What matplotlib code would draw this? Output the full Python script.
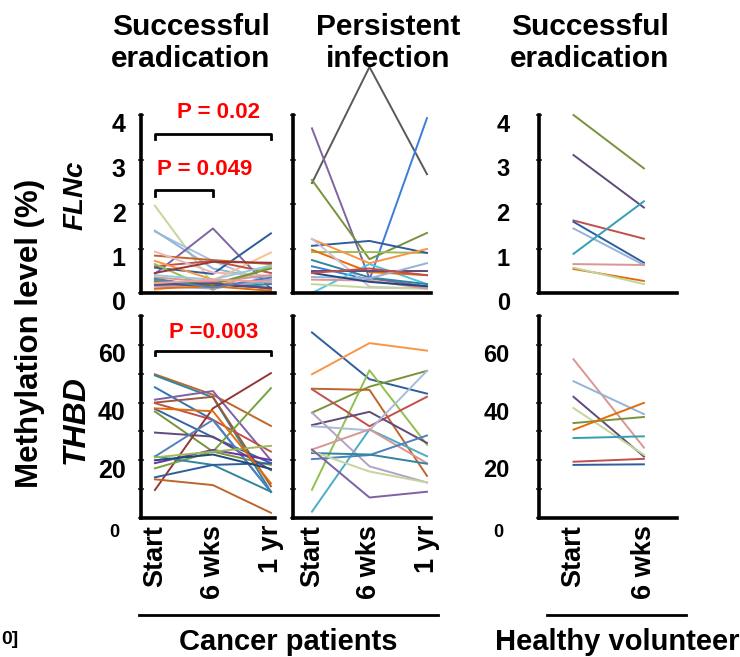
import matplotlib.pyplot as plt
from matplotlib.lines import Line2D
from matplotlib.transforms import ScaledTranslation

plt.rcParams['font.family'] = ['Liberation Sans', 'DejaVu Sans']
plt.rcParams['font.weight'] = 'bold'

W, H = 740, 657

cancer_times = ['Start', '6 wks', '1 yr']
healthy_times = ['Start', '6 wks']

# FLNc methylation (%) - one list per subject: start, 6 wks, 1 yr
flnc_success = [
    [1.96, 0.20, 0.57], [1.38, 0.72, 0.20], [1.40, 0.55, 0.30], [0.43, 1.45, 0.09],
    [0.57, 0.43, 1.34], [0.07, 0.28, 0.91], [0.84, 0.74, 0.65], [0.60, 0.72, 0.45],
    [0.93, 0.46, 0.39], [0.65, 0.07, 0.61], [0.72, 0.30, 0.08], [0.30, 0.15, 0.25],
    [0.25, 0.12, 0.20], [0.20, 0.18, 0.12], [0.15, 0.10, 0.30], [0.35, 0.25, 0.40],
    [0.28, 0.20, 0.55], [0.40, 0.30, 0.62], [0.18, 0.22, 0.10], [0.10, 0.15, 0.05],
    [0.32, 0.12, 0.35], [0.22, 0.30, 0.25], [0.45, 0.70, 0.68],
]
flnc_persist = [
    [2.47, 5.08, 2.67], [3.70, 0.33, 0.15], [0.60, 0.30, 3.93], [0.00, 0.65, 0.20],
    [2.54, 0.76, 1.35], [0.92, 0.92, 0.90], [1.06, 1.17, 0.90], [1.21, 0.67, 0.99],
    [0.97, 0.47, 0.40], [1.22, 0.14, 0.10], [0.74, 0.35, 0.20], [0.50, 0.50, 0.50],
    [0.36, 0.33, 0.67], [0.20, 0.12, 0.10], [0.30, 0.28, 0.10], [0.45, 0.25, 0.15],
    [0.45, 0.55, 0.40],
]
flnc_healthy = [
    [4.00, 2.80], [3.10, 1.92], [1.63, 1.22], [1.60, 0.68], [1.45, 0.63],
    [0.88, 2.06], [0.65, 0.63], [0.54, 0.27], [0.57, 0.20],
]

# THBD methylation (%)
thbd_success = [
    [49.8, 42.7, 31.9], [49.4, 41.8, 9.1], [45.3, 34.0, 9.0], [41.0, 44.0, 20.0],
    [40.0, 42.0, 11.0], [37.8, 28.0, 19.0], [36.9, 23.0, 18.4], [29.6, 28.2, 16.6],
    [39.8, 34.0, 23.0], [9.7, 38.0, 50.2], [17.2, 23.0, 45.0], [21.3, 34.0, 9.1],
    [19.0, 23.6, 20.1], [21.3, 18.4, 9.1], [14.1, 18.4, 19.0], [13.4, 11.4, 1.8],
    [21.0, 23.0, 25.0], [38.0, 37.0, 12.0], [20.0, 22.0, 17.0],
]
thbd_persist = [
    [64.3, 48.1, 43.1], [49.8, 60.6, 58.0], [36.5, 45.5, 51.0], [9.8, 51.2, 25.4],
    [44.8, 44.4, 14.6], [44.6, 31.8, 42.0], [32.2, 36.8, 26.0], [31.8, 30.4, 51.0],
    [2.2, 30.7, 21.4], [36.5, 17.9, 12.3], [23.7, 30.7, 19.0], [20.4, 21.8, 28.6],
    [22.5, 22.0, 18.8], [23.1, 16.1, 12.3], [23.7, 7.1, 9.1],
]
thbd_healthy = [
    [55.0, 24.4], [47.4, 36.0], [42.0, 21.3], [38.1, 21.9], [32.9, 35.0],
    [30.6, 39.9], [27.7, 28.3], [19.5, 20.5], [18.4, 18.6],
]

flnc_success_colors = ['#c3d69b', '#a6c4e4', '#95b3d7', '#8064a2', '#2c5d96', '#fac090',
                       '#c0652b', '#c0504d', '#e6b9b8', '#9bbb59', '#f79646', '#4bacc6',
                       '#31859c', '#1f497d', '#b3a2c7', '#d99694', '#77933c', '#93cddd',
                       '#604a7b', '#e36c09', '#4f81bd', '#f2a0a0', '#953735']
flnc_persist_colors = ['#595959', '#8064a2', '#3b7dd8', '#4bc6e6', '#77933c', '#9bbb59',
                       '#2e5e9c', '#f79646', '#e36c09', '#ccc0da', '#31859c', '#5f497a',
                       '#95b3d7', '#c3d69b', '#d99694', '#1f497d', '#c0504d']
flnc_healthy_colors = ['#77933c', '#604a7b', '#c0504d', '#2e5e9c', '#95b3d7',
                       '#31a0b5', '#d99694', '#e36c09', '#c3d69b']
thbd_success_colors = ['#c0652b', '#31859c', '#2e75b6', '#7f5fa5', '#9b5b3a', '#3465a4',
                       '#77933c', '#604a7b', '#c0504d', '#953735', '#77a33c', '#4f81bd',
                       '#7030a0', '#31859c', '#2e5e9c', '#c0652b', '#9bbb59', '#e36c09',
                       '#1f497d']
thbd_persist_colors = ['#2e5e9c', '#f79646', '#77933c', '#92c050', '#c0652b', '#c0504d',
                       '#604a7b', '#a6bddb', '#4bacc6', '#b3a2c7', '#d99694', '#4f81bd',
                       '#31859c', '#c3d69b', '#7f5fa5']
thbd_healthy_colors = ['#d99694', '#95b3d7', '#604a7b', '#c3d69b', '#77933c',
                       '#e36c09', '#31a0b5', '#c0504d', '#2e5e9c']


fig = plt.figure(figsize=(W / 100, H / 100), dpi=100)


def add_px_axes(x0, y0, x1, y1):
    return fig.add_axes([x0 / W, 1 - y1 / H, (x1 - x0) / W, (y1 - y0) / H])


def style_axis(ax, row, col, times, xlim):
    ax.set_xlim(*xlim)
    for s in ['top', 'right']:
        ax.spines[s].set_visible(False)
    for s in ['left', 'bottom']:
        ax.spines[s].set_linewidth(2.6)
        ax.spines[s].set_color('black')
    ax.tick_params(axis='y', which='both', direction='inout', length=4, width=1.5, color='#555555')
    ax.tick_params(axis='x', length=0)
    ax.set_xticks(range(len(times)))
    if row == 1:
        ax.set_xticklabels(times, rotation=90, fontsize=19.5, fontweight='bold', va='top')
        ax.tick_params(axis='x', pad=5)
    else:
        ax.set_xticklabels([])

    if row == 0:
        ax.set_ylim(0, 4)
        ticks = [0, 1, 2, 3, 4]
        labels = ['0', '1', '2', '3', '4']
        ax.set_yticks(ticks)
    else:
        ax.set_ylim(0, 70)
        ticks = [0, 20, 40, 60]
        labels = ['', '20', '40', '60']
        ax.set_yticks(ticks)
        ax.set_yticks([10, 30, 50, 70], minor=True)

    if col == 1:
        ax.set_yticklabels([])
        return
    size = 18 if col == 0 else 17
    pad = 9 if col == 0 else 19
    ax.set_yticklabels(labels, fontsize=size, fontweight='bold')
    ax.tick_params(axis='y', pad=pad)
    shift = ScaledTranslation(0, -8 / 100, fig.dpi_scale_trans)
    for lab in ax.get_yticklabels():
        lab.set_transform(lab.get_transform() + shift)
    if row == 1:
        # small zero below the axis
        ax.text(-0.16 if col == 0 else -0.26, -0.03, '0', transform=ax.transAxes,
                fontsize=13, fontweight='bold', ha='right', va='top')


cols_px = [(141, 275), (293, 431), (539, 677)]
rows_px = [(115, 293), (316, 518)]
xlims = [(-0.24, 2.07), (-0.33, 2.07), (-0.49, 1.47)]

panels = [
    [(flnc_success, flnc_success_colors, cancer_times),
     (flnc_persist, flnc_persist_colors, cancer_times),
     (flnc_healthy, flnc_healthy_colors, healthy_times)],
    [(thbd_success, thbd_success_colors, cancer_times),
     (thbd_persist, thbd_persist_colors, cancer_times),
     (thbd_healthy, thbd_healthy_colors, healthy_times)],
]

axes = [[None] * 3 for _ in range(2)]
for r, (y0, y1) in enumerate(rows_px):
    for c, (x0, x1) in enumerate(cols_px):
        ax = add_px_axes(x0, y0, x1, y1)
        data, colors, times = panels[r][c]
        for series, color in zip(data, colors):
            ax.plot(range(len(series)), series, color=color, lw=1.4, clip_on=False)
        style_axis(ax, r, c, times, xlims[c])
        axes[r][c] = ax


def bracket(ax, x0, x1, y, drop, text, ty, tx):
    ax.plot([x0, x0, x1, x1], [y - drop, y, y, y - drop], color='black', lw=2, clip_on=False)
    ax.text(tx, ty, text, color='red', fontsize=16, fontweight='bold', ha='center', va='center')


bracket(axes[0][0], 0, 2, 3.57, 0.12, 'P = 0.02', 4.06, 1.09)
bracket(axes[0][0], 0, 1, 2.31, 0.14, 'P = 0.049', 2.78, 0.86)
bracket(axes[1][0], 0, 2, 58.0, 1.6, 'P =0.003', 64.2, 1.02)

# column titles
fig.text(191 / W, 1 - 43 / H, 'Successful\neradication', ha='center', va='center',
         fontsize=21.5, fontweight='bold')
fig.text(388 / W, 1 - 43 / H, 'Persistent\ninfection', ha='center', va='center',
         fontsize=21.5, fontweight='bold')
fig.text(590 / W, 1 - 43 / H, 'Successful\neradication', ha='center', va='center',
         fontsize=21.5, fontweight='bold')

# row labels
fig.text(30 / W, 1 - 333 / H, 'Methylation level (%)', rotation=90, ha='center', va='center',
         fontsize=22.5, fontweight='bold')
fig.text(76 / W, 1 - 195 / H, 'FLNc', rotation=90, ha='center', va='center',
         fontsize=20, fontweight='bold', style='italic')
fig.text(76 / W, 1 - 420 / H, 'THBD', rotation=90, ha='center', va='center',
         fontsize=23, fontweight='bold', style='italic')

# group underlines and labels
fig.add_artist(Line2D([139 / W, 438 / W], [1 - 615 / H, 1 - 615 / H], color='black', lw=2))
fig.add_artist(Line2D([547 / W, 686 / W], [1 - 615 / H, 1 - 615 / H], color='black', lw=2))
fig.text(288 / W, 1 - 642 / H, 'Cancer patients', ha='center', va='center',
         fontsize=21, fontweight='bold')
fig.text(617 / W, 1 - 642 / H, 'Healthy volunteer', ha='center', va='center',
         fontsize=21, fontweight='bold')
fig.text(1 / W, 1 - 640 / H, '0]', ha='left', va='center', fontsize=14, fontweight='bold')

fig.savefig('out.png', dpi=100)
